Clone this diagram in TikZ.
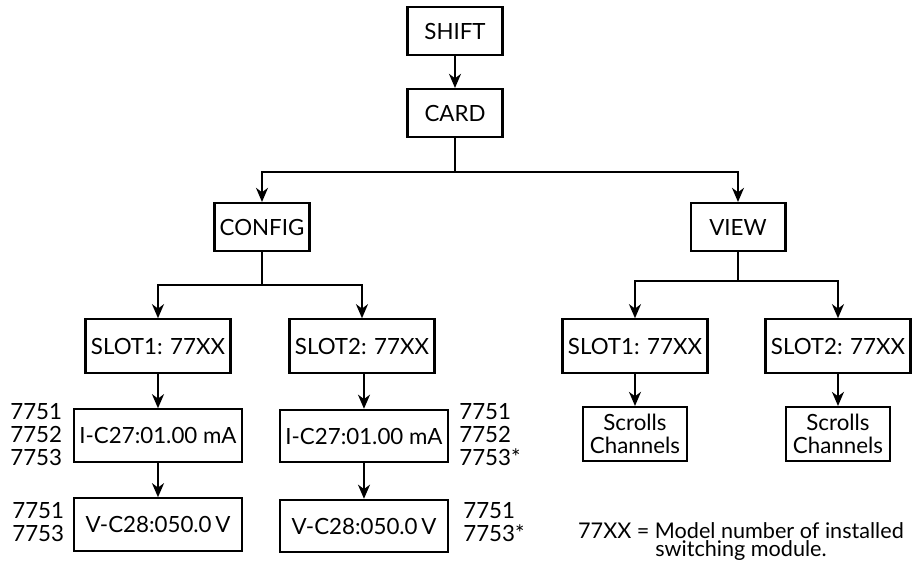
\documentclass[tikz,border=0pt]{standalone}
\usepackage{fontspec}
\setmainfont{Lato}
\usetikzlibrary{arrows.meta}
\newcommand\notefont{\fontsize{12.3}{9.8}\selectfont\lineskiplimit=-5pt\relax}

\begin{document}
\begin{tikzpicture}[scale=0.2]
    \tikzstyle{every node}+=[inner sep=0pt, font=\fontsize{12.7}{13.1}\selectfont]
    \tikzstyle{box}=[draw, black, line width=1.2pt, minimum width=54pt, minimum height=27.3pt]
    \tikzstyle{slotbox}=[box, minimum width=82.5pt, minimum height=30.4pt]
    \tikzstyle{valbox}=[box, minimum width=95.6pt, minimum height=29.8pt]
    \tikzstyle{scrbox}=[box, minimum width=59pt, minimum height=30.7pt, align=center]
    \tikzstyle{models}=[align=left, anchor=west]
    \tikzstyle{arr}=[black, line width=1.2pt, -{Stealth[length=8pt,width=6.8pt,inset=2.5pt]}]
    \useasboundingbox (0,0) rectangle (91.4,-56);
    % top of the menu
    \node [box] (shift) at (45.5,-3.1) {SHIFT};
    \node [box] (card) at (45.5,-11.3) {CARD};
    \node [box] (config) at (26.2,-22.7) {CONFIG};
    \node [box] (view) at (73.8,-22.7) {VIEW};
    % CONFIG branch
    \node [slotbox] (cfgslot1) at (15.8,-34.6) {SLOT1: 77XX};
    \node [slotbox] (cfgslot2) at (36.2,-34.6) {SLOT2: 77XX};
    \node [valbox] (cur1) at (15.8,-43.55) {I-C27:01.00 mA};
    \node [valbox] (cur2) at (36.4,-43.6) {I-C27:01.00 mA};
    \node [valbox] (volt1) at (15.8,-52.45) {V-C28:050.0\,V};
    \node [valbox] (volt2) at (36.4,-52.6) {V-C28:050.0\,V};
    \node [models] (cur1m) at (1.0,-43.5) {7751\\7752\\7753};
    \node [models] (cur2m) at (45.9,-43.5) {7751\\7752\\7753*};
    \node [models] (volt1m) at (1.2,-52.2) {7751\\7753};
    \node [models] (volt2m) at (46.3,-52.2) {7751\\7753*};
    % VIEW branch
    \node [slotbox] (viewslot1) at (63.5,-34.6) {SLOT1: 77XX};
    \node [slotbox] (viewslot2) at (83.8,-34.6) {SLOT2: 77XX};
    \node [scrbox] (scroll1) at (63.5,-43.4) {Scrolls\\Channels};
    \node [scrbox] (scroll2) at (83.8,-43.4) {Scrolls\\Channels};
    \node [align=center, font=\notefont] (note) at (74.1,-54.15)
        {77XX = Model number of installed\\switching module.};
    % connectors
    \draw [arr] (shift.south) -- (card.north);
    \draw [arr] (card.south) -- ++(0,-3.4) -| (config.north);
    \draw [arr] (card.south) -- ++(0,-3.4) -| (view.north);
    \draw [arr] (config.south) -- ++(0,-3.3) -| (cfgslot1.north);
    \draw [arr] (config.south) -- ++(0,-3.3) -| (cfgslot2.north);
    \draw [arr] (view.south) -- ++(0,-2.9) -| (viewslot1.north);
    \draw [arr] (view.south) -- ++(0,-2.9) -| (viewslot2.north);
    \draw [arr] (cfgslot1.south) -- (cur1.north);
    \draw [arr] (cfgslot2.south -| cur2.north) -- (cur2.north);
    \draw [arr] (cur1.south) -- (volt1.north);
    \draw [arr] (cur2.south) -- (volt2.north);
    \draw [arr] (viewslot1.south) -- (scroll1.north);
    \draw [arr] (viewslot2.south) -- (scroll2.north);
\end{tikzpicture}
\end{document}
